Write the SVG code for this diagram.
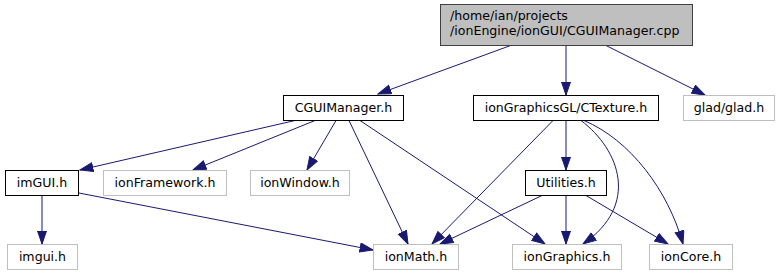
<svg xmlns="http://www.w3.org/2000/svg" width="780" height="276" viewBox="0 0 780 276">
  <style>
    .box { fill: #ffffff; stroke: #000000; stroke-width: 1; }
    .ext { fill: #ffffff; stroke: #bfbfbf; stroke-width: 1; }
    .root { fill: #bfbfbf; stroke: #404040; stroke-width: 1; }
    text { font-family: "DejaVu Sans", "Liberation Sans", sans-serif; font-size: 12.6px; fill: #000000; }
    .c { text-anchor: middle; }
    .edge { fill: none; stroke: #191970; stroke-width: 1; marker-end: url(#arrow); }
  </style>
  <defs>
    <marker id="arrow" markerUnits="userSpaceOnUse" markerWidth="16" markerHeight="12" refX="13.5" refY="5" orient="auto">
      <path d="M0.5,0.5 L13.5,5 L0.5,9.5 Z" fill="#191970" stroke="#191970" stroke-width="1"/>
    </marker>
  </defs>

  <rect width="780" height="276" fill="#ffffff"/>

  <!-- include connectors -->
  <g id="edges">
    <path class="edge" d="M512,45 L378,94"/>
    <path class="edge" d="M566,45.5 L566,95"/>
    <path class="edge" d="M605,45 L705,95"/>
    <path class="edge" d="M295,120.5 L80,170"/>
    <path class="edge" d="M315,120.5 L193,170"/>
    <path class="edge" d="M336,120.5 L307,170"/>
    <path class="edge" d="M349,120.5 L408,244"/>
    <path class="edge" d="M360,120.5 L545,244"/>
    <path class="edge" d="M553,120.5 L432,244"/>
    <path class="edge" d="M566,120.5 L566,170"/>
    <path class="edge" d="M581,120.5 C620,150 640,205 583,244"/>
    <path class="edge" d="M584,120.5 C630,140 668,190 683,244"/>
    <path class="edge" d="M42,195.5 L42,244"/>
    <path class="edge" d="M79,193 L373,250"/>
    <path class="edge" d="M542,195.5 L440,244"/>
    <path class="edge" d="M566,195.5 L566,244"/>
    <path class="edge" d="M586,195.5 L668,244"/>
  </g>

  <g id="node-root">
    <rect class="root" x="440.5" y="4.5" width="252" height="41"/>
    <text x="450" y="20">/home/ian/projects</text>
    <text x="450" y="35">/ionEngine/ionGUI/CGUIManager.cpp</text>
  </g>

  <g id="node-cguimanager">
    <rect class="box" x="283.5" y="95.5" width="120" height="25"/>
    <text class="c" x="343.5" y="112">CGUIManager.h</text>
  </g>
  <g id="node-ctexture">
    <rect class="box" x="473.5" y="95.5" width="185" height="25"/>
    <text class="c" x="566" y="112">ionGraphicsGL/CTexture.h</text>
  </g>
  <g id="node-glad">
    <rect class="ext" x="683.5" y="95.5" width="91" height="25"/>
    <text class="c" x="729" y="112">glad/glad.h</text>
  </g>

  <g id="node-imgui-wrapper">
    <rect class="box" x="5.5" y="170.5" width="73" height="25"/>
    <text class="c" x="42" y="187">imGUI.h</text>
  </g>
  <g id="node-ionframework">
    <rect class="ext" x="103.5" y="170.5" width="123" height="25"/>
    <text class="c" x="165" y="187">ionFramework.h</text>
  </g>
  <g id="node-ionwindow">
    <rect class="ext" x="250.5" y="170.5" width="99" height="25"/>
    <text class="c" x="300" y="187">ionWindow.h</text>
  </g>
  <g id="node-utilities">
    <rect class="box" x="525.5" y="170.5" width="81" height="25"/>
    <text class="c" x="566" y="187">Utilities.h</text>
  </g>

  <g id="node-imgui">
    <rect class="ext" x="7.5" y="244.5" width="70" height="25"/>
    <text class="c" x="42.5" y="261">imgui.h</text>
  </g>
  <g id="node-ionmath">
    <rect class="ext" x="373.5" y="244.5" width="85" height="25"/>
    <text class="c" x="416" y="261">ionMath.h</text>
  </g>
  <g id="node-iongraphics">
    <rect class="ext" x="512.5" y="244.5" width="109" height="25"/>
    <text class="c" x="567" y="261">ionGraphics.h</text>
  </g>
  <g id="node-ioncore">
    <rect class="ext" x="649.5" y="244.5" width="83" height="25"/>
    <text class="c" x="691" y="261">ionCore.h</text>
  </g>
</svg>
